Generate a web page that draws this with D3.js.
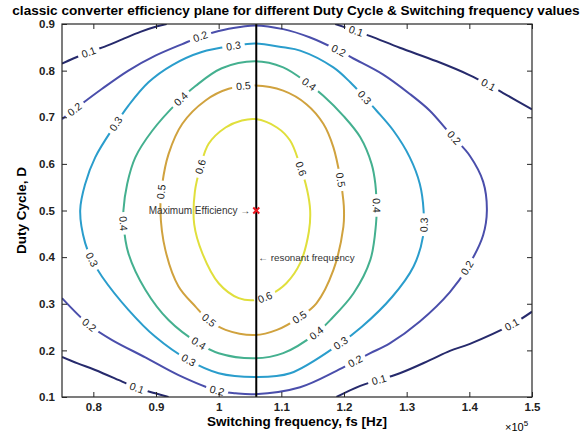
<!DOCTYPE html>
<html>
<head>
<meta charset="utf-8">
<script src="https://cdn.jsdelivr.net/npm/d3@7"></script>
<style>
body { margin: 0; background: #fff; }
text { font-family: "Liberation Sans", Arial, Helvetica, sans-serif; }
</style>
</head>
<body>
<svg id="chart" width="586" height="435"></svg>
<script>
// efficiency contour levels
var levels = [0.1, 0.2, 0.3, 0.4, 0.5, 0.6];

// axis ticks (fs in units of 1e5 Hz)
var xTicks = [0.8, 0.9, 1.0, 1.1, 1.2, 1.3, 1.4, 1.5];
var yTicks = [0.1, 0.2, 0.3, 0.4, 0.5, 0.6, 0.7, 0.8, 0.9];

// contour lines, points are [fs (x1e5), D]
var eta01TopLeft = [[0.75,0.815],[0.768,0.826],[0.792,0.839],[0.821,0.853],[0.846,0.867],[0.875,0.883],[0.902,0.895],[0.917,0.9]];
var eta01TopRight = [[1.186,0.9],[1.21,0.889],[1.242,0.874],[1.289,0.849],[1.348,0.82],[1.401,0.79],[1.43,0.77],[1.454,0.752],[1.5,0.717]];
var eta01BottomLeft = [[0.75,0.186],[0.775,0.172],[0.803,0.158],[0.846,0.133],[0.87,0.119],[0.899,0.108],[0.92,0.1]];
var eta01BottomRight = [[1.188,0.1],[1.226,0.124],[1.289,0.151],[1.337,0.179],[1.369,0.199],[1.401,0.214],[1.467,0.255],[1.5,0.283]];
var eta02 = [[0.75,0.696],[0.777,0.724],[0.814,0.761],[0.856,0.8],[0.899,0.832],[0.942,0.857],[0.971,0.873],[1.0,0.885],[1.037,0.894],[1.058,0.897],
  [1.103,0.889],[1.146,0.871],[1.19,0.844],[1.215,0.826],[1.262,0.792],[1.305,0.75],[1.337,0.714],[1.364,0.673],[1.377,0.654],[1.401,0.617],[1.422,0.562],[1.428,0.5],
  [1.422,0.447],[1.398,0.38],[1.369,0.325],[1.321,0.262],[1.273,0.215],[1.242,0.194],[1.218,0.177],[1.188,0.156],[1.13,0.121],[1.058,0.106],
  [1.027,0.108],[0.997,0.114],[0.936,0.147],[0.883,0.185],[0.83,0.222],[0.793,0.255],[0.75,0.312]];
var eta03 = [[1.058,0.858],[1.103,0.85],[1.13,0.843],[1.183,0.807],[1.21,0.775],[1.231,0.745],[1.252,0.714],[1.279,0.671],[1.305,0.614],[1.321,0.557],[1.327,0.5],
  [1.326,0.444],[1.311,0.38],[1.277,0.315],[1.228,0.25],[1.194,0.215],[1.114,0.151],[1.058,0.143],
  [1.0,0.151],[0.952,0.179],[0.899,0.229],[0.856,0.287],[0.814,0.358],[0.798,0.394],[0.787,0.43],[0.779,0.5],
  [0.787,0.557],[0.803,0.614],[0.833,0.68],[0.856,0.725],[0.888,0.775],[0.926,0.812],[0.973,0.84],[1.024,0.853]];
var eta04 = [[1.058,0.82],[1.103,0.807],[1.143,0.772],[1.167,0.746],[1.199,0.703],[1.226,0.657],[1.244,0.6],[1.25,0.557],[1.252,0.5],
  [1.251,0.47],[1.242,0.394],[1.215,0.322],[1.178,0.265],[1.156,0.237],[1.103,0.194],[1.058,0.183],
  [1.0,0.194],[0.968,0.215],[0.92,0.265],[0.883,0.33],[0.856,0.408],[0.848,0.473],[0.848,0.5],
  [0.854,0.557],[0.867,0.614],[0.894,0.671],[0.935,0.733],[0.963,0.767],[1.005,0.805]];
var eta05 = [[1.058,0.768],[1.103,0.757],[1.14,0.728],[1.167,0.686],[1.183,0.636],[1.194,0.57],[1.199,0.521],[1.2,0.5],
  [1.199,0.465],[1.183,0.372],[1.156,0.301],[1.13,0.272],[1.093,0.244],[1.058,0.233],
  [1.011,0.244],[0.984,0.265],[0.963,0.294],[0.936,0.337],[0.915,0.415],[0.907,0.5],
  [0.91,0.557],[0.92,0.621],[0.942,0.686],[0.979,0.736],[1.016,0.761]];
var eta06 = [[1.059,0.696],[1.093,0.678],[1.114,0.65],[1.129,0.6],[1.141,0.545],[1.146,0.5],[1.144,0.455],[1.13,0.387],[1.108,0.344],[1.082,0.319],[1.059,0.308],
  [1.032,0.312],[1.0,0.344],[0.974,0.408],[0.961,0.47],[0.962,0.54],[0.971,0.594],[0.984,0.643],[1.011,0.678],[1.037,0.693]];

// inline label spots [level, fs, D]
var labelSpots = [
  [0.1,0.793,0.839],[0.1,1.219,0.886],[0.1,1.43,0.769],[0.1,0.87,0.119],[0.1,1.257,0.135],[0.1,1.467,0.258],
  [0.2,0.773,0.713],[0.2,0.971,0.873],[0.2,1.191,0.841],[0.2,1.377,0.658],[0.2,0.793,0.255],[0.2,0.997,0.112],[0.2,1.218,0.176],[0.2,1.396,0.376],
  [0.3,0.836,0.686],[0.3,1.024,0.851],[0.3,1.231,0.739],[0.3,1.327,0.469],[0.3,0.798,0.394],[0.3,0.952,0.179],[0.3,1.194,0.215],
  [0.4,0.939,0.741],[0.4,1.143,0.77],[0.4,1.255,0.51],[0.4,0.848,0.473],[0.4,0.968,0.215],[0.4,1.156,0.237],
  [0.5,1.04,0.766],[0.5,0.908,0.539],[0.5,1.191,0.564],[0.5,0.984,0.265],[0.5,1.127,0.276],
  [0.6,0.971,0.594],[0.6,1.129,0.589],[0.6,1.074,0.314]
];

var resonantFs = 1.06;
var maxEff = [1.06, 0.5];
var resonantNoteD = 0.4;

var contours = [
  {level: 0.1, pts: eta01TopLeft, closed: false},
  {level: 0.1, pts: eta01TopRight, closed: false},
  {level: 0.1, pts: eta01BottomLeft, closed: false},
  {level: 0.1, pts: eta01BottomRight, closed: false},
  {level: 0.2, pts: eta02, closed: false},
  {level: 0.3, pts: eta03, closed: true},
  {level: 0.4, pts: eta04, closed: true},
  {level: 0.5, pts: eta05, closed: true},
  {level: 0.6, pts: eta06, closed: true}
];

var color = d3.scaleOrdinal()
  .domain(levels)
  .range(["#262a6c", "#4a4eab", "#2a9dcc", "#44b08f", "#d0a23e", "#e0df3c"]);

var svg = d3.select("#chart");
var mLeft = 62, mRight = 532, mTop = 24, mBottom = 397;

var x = d3.scaleLinear().domain([0.75, 1.5]).range([mLeft, mRight]);
var y = d3.scaleLinear().domain([0.1, 0.9]).range([mBottom, mTop]);
var fmt = d3.format("~g");

svg.append("clipPath").attr("id", "plotclip")
  .append("rect").attr("x", mLeft).attr("y", mTop).attr("width", mRight - mLeft).attr("height", mBottom - mTop);

var plot = svg.append("g").attr("clip-path", "url(#plotclip)");

var lineOpen = d3.line().x(function(d){ return x(d[0]); }).y(function(d){ return y(d[1]); })
  .curve(d3.curveCatmullRom.alpha(0.5));
var lineClosed = d3.line().x(function(d){ return x(d[0]); }).y(function(d){ return y(d[1]); })
  .curve(d3.curveCatmullRomClosed.alpha(0.5));

// draw contours
var paths = plot.selectAll("path.contour")
  .data(contours)
  .enter()
  .append("path")
  .attr("class", "contour")
  .attr("d", function(d){ return d.closed ? lineClosed(d.pts) : lineOpen(d.pts); })
  .attr("fill", "none")
  .attr("stroke", function(d){ return color(d.level); })
  .attr("stroke-width", 2);

// inline labels: snap onto nearest point of the matching contour
var labelLayer = plot.append("g");
labelSpots.forEach(function(s) {
  var px = x(s[1]), py = y(s[2]);
  var best = null;
  paths.each(function(c) {
    if (c.level !== s[0]) return;
    var len = this.getTotalLength();
    for (var l = 0; l <= len; l += 1) {
      var p = this.getPointAtLength(l);
      var dd = (p.x - px) * (p.x - px) + (p.y - py) * (p.y - py);
      if (!best || dd < best.dd) best = {dd: dd, l: l, el: this, len: len, p: p};
    }
  });
  if (!best) return;
  var a = best.el.getPointAtLength(Math.max(0, best.l - 5));
  var b = best.el.getPointAtLength(Math.min(best.len, best.l + 5));
  var ang = Math.atan2(b.y - a.y, b.x - a.x) * 180 / Math.PI;
  if (ang > 90) ang -= 180;
  if (ang < -90) ang += 180;
  var g = labelLayer.append("g")
    .attr("transform", "translate(" + best.p.x + "," + best.p.y + ") rotate(" + ang + ")");
  var rect = g.append("rect").attr("fill", "#fff");
  var t = g.append("text")
    .attr("text-anchor", "middle")
    .attr("dy", "0.35em")
    .style("font-size", "10.5px")
    .attr("fill", "#222")
    .text(fmt(s[0]));
  var w = t.node().getComputedTextLength() + 8;
  rect.attr("x", -w / 2).attr("y", -5).attr("width", w).attr("height", 10);
});

// resonant frequency line
svg.append("line")
  .attr("x1", x(resonantFs)).attr("x2", x(resonantFs))
  .attr("y1", y(0.1)).attr("y2", y(0.9))
  .attr("stroke", "#000").attr("stroke-width", 2);

// max efficiency marker
svg.append("path")
  .attr("transform", "translate(" + x(maxEff[0]) + "," + y(maxEff[1]) + ")")
  .attr("d", "M-3,-3L3,3M-3,3L3,-3")
  .attr("stroke", "#e8141c").attr("stroke-width", 2);

svg.append("text")
  .attr("x", x(maxEff[0]) - 6).attr("y", y(maxEff[1]) + 3.5)
  .attr("text-anchor", "end")
  .style("font-size", "10px").attr("fill", "#333")
  .text("Maximum Efficiency \u2192");

svg.append("text")
  .attr("x", x(resonantFs) + 2).attr("y", y(resonantNoteD) + 3.5)
  .style("font-size", "9.8px").attr("fill", "#333")
  .text("\u2190 resonant frequency");

// axes with inward ticks
var axisColor = "#262626";
svg.append("g").attr("transform", "translate(0," + mBottom + ")")
  .call(d3.axisBottom(x).tickValues(xTicks).tickSize(-5).tickPadding(6).tickFormat(fmt));
svg.append("g").attr("transform", "translate(0," + mTop + ")")
  .call(d3.axisTop(x).tickValues(xTicks).tickSize(-5).tickFormat(""));
svg.append("g").attr("transform", "translate(" + mLeft + ",0)")
  .call(d3.axisLeft(y).tickValues(yTicks).tickSize(-5).tickPadding(7).tickFormat(fmt));
svg.append("g").attr("transform", "translate(" + mRight + ",0)")
  .call(d3.axisRight(y).tickValues(yTicks).tickSize(-5).tickFormat(""));

svg.selectAll(".domain").remove();
svg.selectAll(".tick line").attr("stroke", axisColor);
svg.selectAll(".tick text")
  .style("font-size", "11.5px").style("font-weight", "bold")
  .attr("fill", "#222");

svg.append("rect")
  .attr("x", mLeft).attr("y", mTop).attr("width", mRight - mLeft).attr("height", mBottom - mTop)
  .attr("fill", "none").attr("stroke", axisColor).attr("stroke-width", 1.2);

// titles
svg.append("text")
  .attr("x", 296).attr("y", 14.5)
  .attr("text-anchor", "middle")
  .style("font-size", "13.6px").style("font-weight", "bold")
  .text("classic converter efficiency plane for different Duty Cycle & Switching frequency values");

svg.append("text")
  .attr("x", (mLeft + mRight) / 2).attr("y", 426)
  .attr("text-anchor", "middle")
  .style("font-size", "13.5px").style("font-weight", "bold")
  .text("Switching frequency, fs [Hz]");

svg.append("text")
  .attr("transform", "translate(26," + ((mTop + mBottom) / 2) + ") rotate(-90)")
  .attr("text-anchor", "middle")
  .style("font-size", "13.5px").style("font-weight", "bold")
  .text("Duty Cycle, D");

var expo = svg.append("text")
  .attr("x", 505).attr("y", 431)
  .style("font-size", "11px")
  .text("\u00d710");
expo.append("tspan").attr("dy", -5).style("font-size", "8px").text("5");
</script>
</body>
</html>
